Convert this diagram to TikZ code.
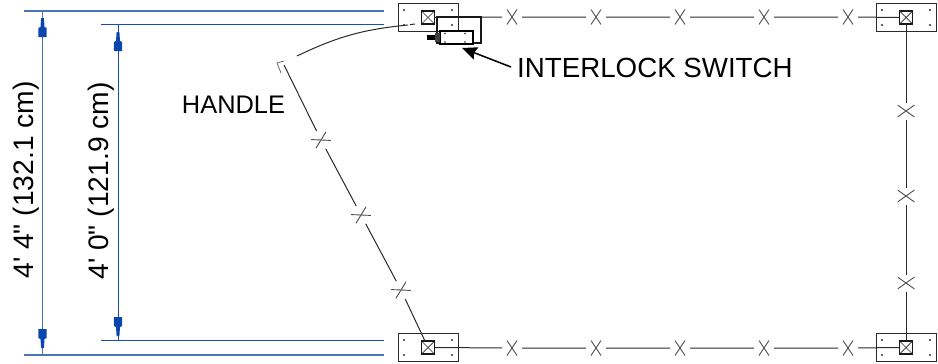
\documentclass[tikz,border=0pt]{standalone}
\usepackage{fontspec}
\usetikzlibrary{arrows.meta}
\newfontfamily\labelfont{Liberation Sans}

\definecolor{dimouter}{HTML}{4A74B4}
\definecolor{diminner}{HTML}{1550B0}
\definecolor{dimhead}{HTML}{0A46AE}
\definecolor{fenceline}{HTML}{2A2A2A}

\tikzset{
  plate/.style={draw=fenceline, line width=1pt, minimum width=60pt, minimum height=28pt, inner sep=0pt, outer sep=0pt},
  hub/.style={draw=black!90, line width=1.2pt, minimum size=13pt, inner sep=0pt, outer sep=0pt,
    path picture={
      \draw[fenceline, line width=0.7pt] (path picture bounding box.north west) -- (path picture bounding box.south east);
      \draw[fenceline, line width=0.7pt] (path picture bounding box.north east) -- (path picture bounding box.south west);
    }},
  % #1 = gap along the wire, #2 and #3 = half size of the cross
  wirex/.style n args={3}{minimum width=#1, minimum height=2*#3, inner sep=0pt, outer sep=0pt,
    path picture={
      \draw[black!70, line width=0.9pt] (-#2pt,-#3pt) -- (#2pt,#3pt);
      \draw[black!70, line width=0.9pt] (-#2pt,#3pt) -- (#2pt,-#3pt);
    }},
  rail/.style={draw=fenceline, line width=1pt},
  caption/.style={inner sep=0pt, font=\labelfont\fontsize{25.4}{30}\selectfont},
  bigcaption/.style={caption, font=\labelfont\fontsize{28.2}{32}\selectfont},
  dimhead/.pic={
    \fill[dimhead] (-1.4,0) -- (1.4,0) -- (2,9) -- (4.2,10) -- (4.2,19) -- (-4.2,19) -- (-4.2,10) -- (-2,9) -- cycle;
  }
}

\begin{document}
\begin{tikzpicture}[x=1pt, y=-1pt]

  \useasboundingbox (0,0) rectangle (938,364);

  % dimension lines
  \coordinate (outerTopL) at (24,11);
  \coordinate (outerTopR) at (384,11);
  \coordinate (outerBotL) at (24,355);
  \coordinate (outerBotR) at (384,355);
  \coordinate (innerTopL) at (101,24.5);
  \coordinate (innerTopR) at (384,24.5);
  \coordinate (innerBotL) at (101,340.5);
  \coordinate (innerBotR) at (384,340.5);
  \coordinate (outerTop) at (42.5,11);
  \coordinate (outerBot) at (42.5,355);
  \coordinate (innerTop) at (118,24.5);
  \coordinate (innerBot) at (118,340.5);

  \draw [dimouter, line width=1.4pt] (outerTopL) -- (outerTopR);
  \draw [dimouter, line width=1.4pt] (outerBotL) -- (outerBotR);
  \draw [dimouter, line width=1.2pt] (outerTop) -- (outerBot);
  \draw [diminner, line width=1pt] (innerTopL) -- (innerTopR);
  \draw [diminner, line width=1pt] (innerBotL) -- (innerBotR);
  \draw [diminner, line width=1pt] (innerTop) -- (innerBot);

  \pic at (42.5,18) {dimhead};
  \pic [yscale=-1] at (42.5,348) {dimhead};
  \pic at (118,32) {dimhead};
  \pic [yscale=-1] at (118,336) {dimhead};

  \node [bigcaption, rotate=90] (outerDim) at (26,180) {4' 4" (132.1 cm)};
  \node [bigcaption, rotate=90] (innerDim) at (101.5,181) {4' 0" (121.9 cm)};

  % posts
  \foreach \nm/\cx/\cy in {TL/428/17.5, BL/428/347.5, TR/906/17.5, BR/906/347.5} {
    \node [plate] (plate\nm) at (\cx,\cy) {};
    \node [hub] (post\nm) at (\cx,\cy) {};
    \foreach \dx in {-24,24}
      \foreach \dy in {-7.5,7.5}
        \fill [fenceline] (\cx+\dx,\cy+\dy) circle (1.2pt);
  }

  % wire marks
  \foreach \cx [count=\i] in {512,596,680,764,848} {
    \node [wirex={20}{5}{7.5}] (xTop\i) at (\cx,17) {};
    \node [wirex={20}{5}{7.5}] (xBot\i) at (\cx,348) {};
  }
  \foreach \cy [count=\i] in {111,196,283}
    \node [wirex={17}{6}{8.5}, rotate=90] (xSide\i) at (906,\cy) {};
  \node [wirex={20}{5}{8.5}, rotate=-62] (xGate1) at (401,290) {};
  \node [wirex={20}{5}{8.5}, rotate=-62] (xGate2) at (361,215) {};
  \node [wirex={20}{5}{8.5}, rotate=-62] (xGate3) at (321,140) {};

  % fence
  \draw [rail] (postTL) -- (xTop1) -- (xTop2) -- (xTop3) -- (xTop4) -- (xTop5) -- (postTR);
  \draw [rail] (postBL) -- (xBot1) -- (xBot2) -- (xBot3) -- (xBot4) -- (xBot5) -- (postBR);
  \draw [rail] (postTR) -- (xSide1) -- (xSide2) -- (xSide3) -- (postBR);

  % gate and handle
  \coordinate (handleEnd) at (284,65);
  \coordinate (hookA) at (284,61);
  \coordinate (hookB) at (277,63);
  \coordinate (hookC) at (281,73);
  \coordinate (swingStart) at (297,56);
  \coordinate (swingEnd) at (408,25);
  \coordinate (swingDashA) at (410,24.6);
  \coordinate (swingDashB) at (415,24);
  \draw [rail] (postBL) -- (xGate1) -- (xGate2) -- (xGate3) -- (handleEnd);
  \draw [draw=black!60, line width=0.8pt] (hookA) -- (hookB) -- (hookC);
  \draw [rail] (swingStart) to [bend left=10] (swingEnd);
  \draw [rail] (swingDashA) -- (swingDashB);

  % interlock switch
  \node [draw=black!90, line width=1.2pt, minimum width=44pt, minimum height=26pt, inner sep=0pt, outer sep=0pt] (lockCase) at (459,30) {};
  \node [draw=black, fill=white, line width=1.4pt, minimum width=33pt, minimum height=13pt, inner sep=0pt, outer sep=0pt] (lockBody) at (456.5,37.5) {};
  \node [fill=black!75, minimum width=5pt, minimum height=9pt, inner sep=0pt, outer sep=0pt, anchor=east] (lockPlug) at (lockBody.west) {};
  \node [fill=black, minimum width=8pt, minimum height=5pt, inner sep=0pt, outer sep=0pt, anchor=east] (lockPin) at (lockPlug.west) {};
  \foreach \dx in {445,465}
    \foreach \dy in {33.5,42}
      \fill [fenceline] (\dx,\dy) circle (0.8pt);

  \node [bigcaption, anchor=west, font=\labelfont\fontsize{27.7}{32}\selectfont] (lockLabel) at (517,68) {INTERLOCK SWITCH};
  \coordinate (lockTail) at (511,67);
  \coordinate (lockTip) at (462,48);
  \draw [-{Stealth[length=15pt, width=13pt, inset=2pt]}, line width=1.5pt] (lockTail) -- (lockTip);

  \node [caption] (handleLabel) at (233.5,105) {HANDLE};

\end{tikzpicture}
\end{document}
